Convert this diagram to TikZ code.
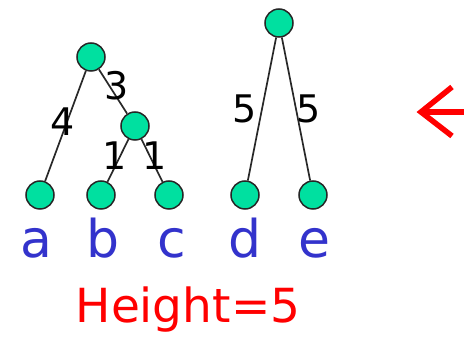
\documentclass[tikz,border=0pt]{standalone}
\usepackage{fontspec}
\setmainfont{DejaVu Sans}
\definecolor{mint}{RGB}{0,224,160}
\definecolor{leafblue}{RGB}{51,51,204}
\definecolor{edgegray}{RGB}{40,40,40}
\begin{document}
\begin{tikzpicture}[x=1pt,y=-1pt,
  treenode/.style={circle,draw=black!85,line width=1.5pt,fill=mint,minimum size=28pt,inner sep=0pt},
  edge/.style={draw=edgegray,line width=1.7pt},
  weight/.style={font=\fontsize{38}{40}\selectfont,inner sep=0pt,text=black},
  leaflabel/.style={font=\fontsize{52}{56}\selectfont,text=leafblue,anchor=base,inner sep=0pt}]
\useasboundingbox (0,0) rectangle (464,339);
% left tree
\node[treenode] (r1) at (91,57) {};
\node[treenode] (m) at (135,126) {};
\node[treenode] (a) at (40,195) {};
\node[treenode] (b) at (101,195) {};
\node[treenode] (c) at (169,195) {};
% right tree
\node[treenode] (r2) at (279,23) {};
\node[treenode] (d) at (245,195) {};
\node[treenode] (e) at (313,195) {};
% edges
\draw[edge] (r1) -- (a);
\draw[edge] (r1) -- (m);
\draw[edge] (m) -- (b);
\draw[edge] (m) -- (c);
\draw[edge] (r2) -- (d);
\draw[edge] (r2) -- (e);
% weights
\node[weight] (w4) at (63,122) {4};
\node[weight] (w3) at (117,86) {3};
\node[weight] (w1l) at (115,156) {1};
\node[weight] (w1r) at (155,156) {1};
\node[weight] (w5l) at (245,109) {5};
\node[weight] (w5r) at (309,109) {5};
% leaf labels
\node[leaflabel] (la) at (36,258) {a};
\node[leaflabel] (lb) at (103,258) {b};
\node[leaflabel] (lc) at (172,258) {c};
\node[leaflabel] (ld) at (245,258) {d};
\node[leaflabel] (le) at (314,258) {e};
% height
\node[font=\fontsize{47}{50}\selectfont,text=red,anchor=base,inner sep=0pt] (h) at (188,323) {Height=5};
% red arrow
\begin{scope}
\clip (0,0) rectangle (464,339);
\coordinate (tip) at (421,112);
\coordinate (armu) at (452,87);
\coordinate (arml) at (452,136);
\coordinate (tail) at (475,112);
\draw[red,line width=5.5pt] (armu) -- (tip) -- (arml);
\draw[red,line width=5.5pt] (tip) -- (tail);
\end{scope}
\end{tikzpicture}
\end{document}
